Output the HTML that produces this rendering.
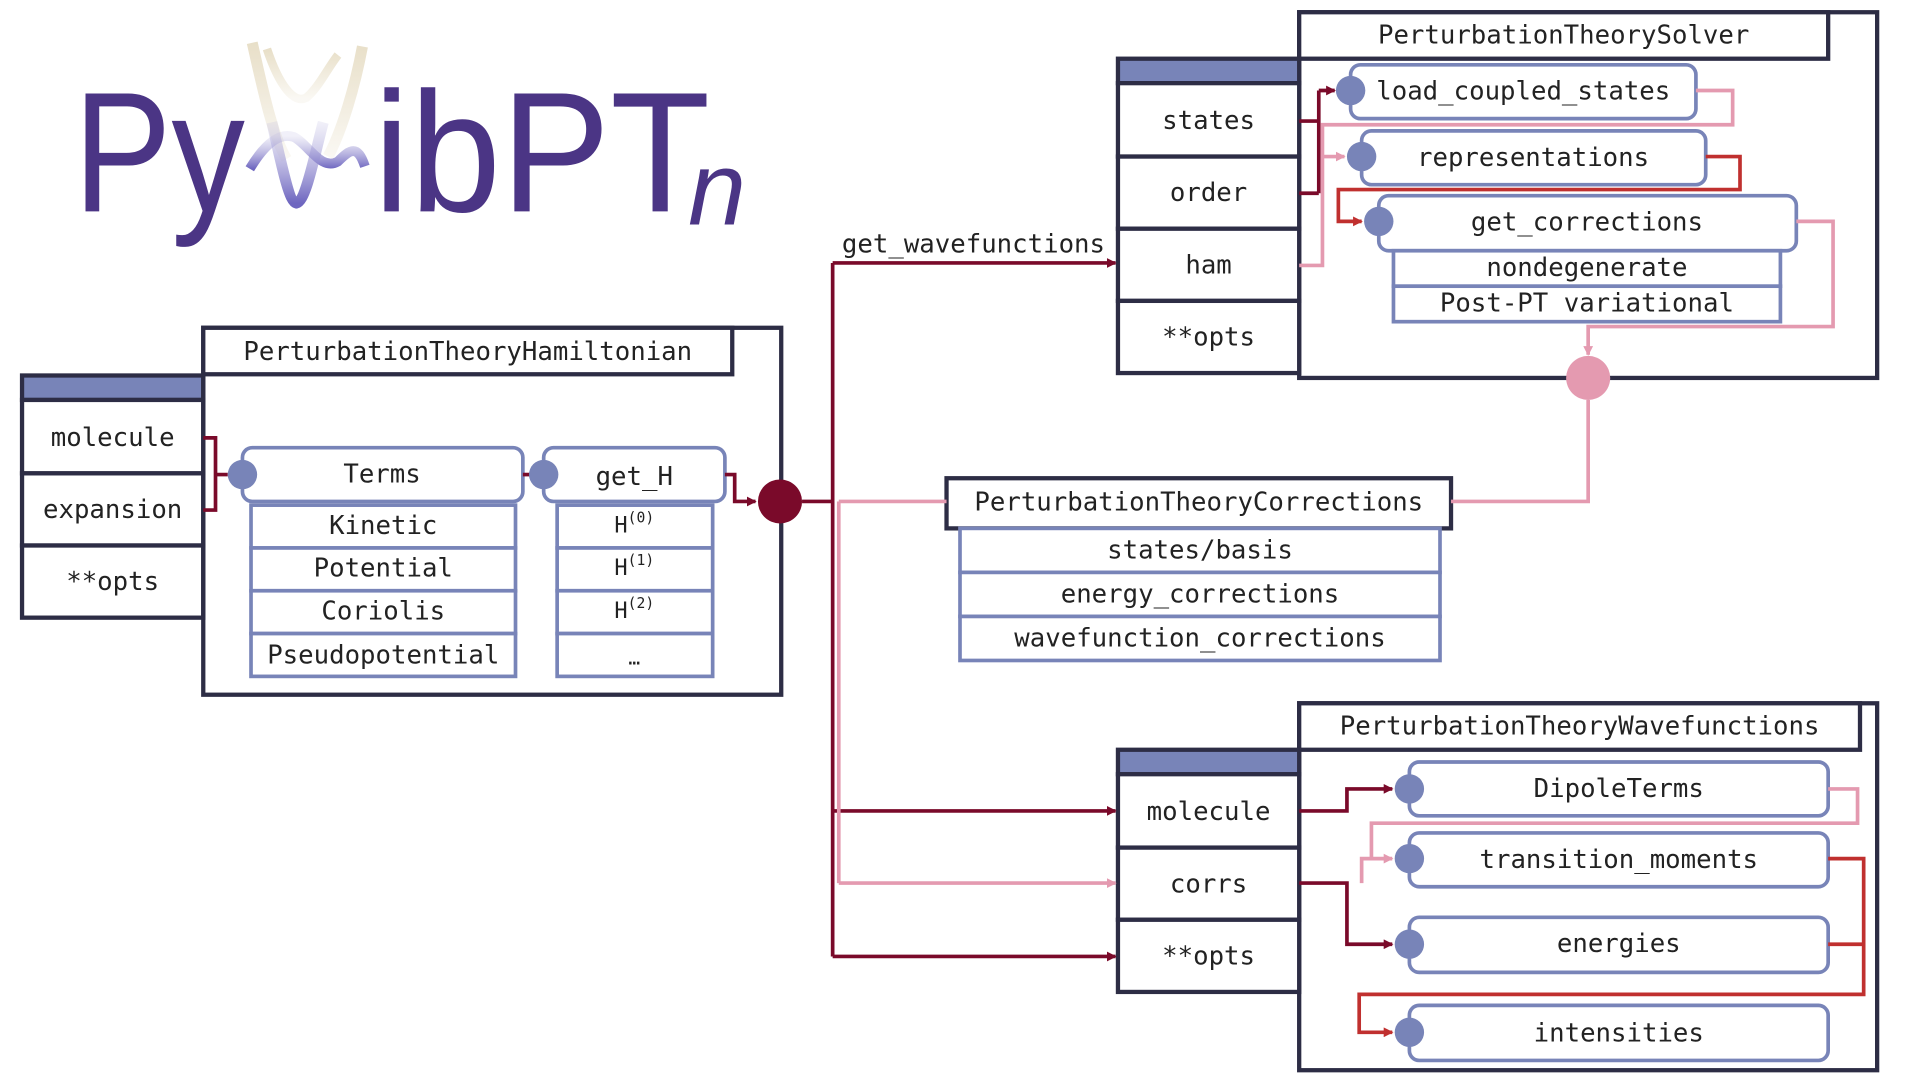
<!DOCTYPE html>
<html><head><meta charset="utf-8"><style>
html,body{margin:0;padding:0;background:#fff;width:1920px;height:1080px;overflow:hidden}
text{font-family:"DejaVu Sans Mono","Liberation Mono",monospace;font-size:21px;fill:#222;text-anchor:middle;dominant-baseline:central}
</style></head><body>
<svg width="1920" height="1080" viewBox="0 0 1568 883" preserveAspectRatio="none" xmlns="http://www.w3.org/2000/svg">
<defs>
<marker id="ad" markerWidth="8" markerHeight="8" refX="7" refY="4" orient="auto" markerUnits="userSpaceOnUse"><path d="M0,0 L8,4 L0,8z" fill="#7A0A2A"/></marker>
<marker id="ap" markerWidth="8" markerHeight="8" refX="7" refY="4" orient="auto" markerUnits="userSpaceOnUse"><path d="M0,0 L8,4 L0,8z" fill="#E49AB0"/></marker>
<marker id="ar" markerWidth="8" markerHeight="8" refX="7" refY="4" orient="auto" markerUnits="userSpaceOnUse"><path d="M0,0 L8,4 L0,8z" fill="#C0302F"/></marker>
<linearGradient id="g1" x1="0" y1="0" x2="0" y2="1"><stop offset="0" stop-color="#E8DFC8"/><stop offset="1" stop-color="#E8DFC8" stop-opacity="0.2"/></linearGradient>
<linearGradient id="g2" x1="0" y1="0" x2="0" y2="1"><stop offset="0" stop-color="#B8B4E0" stop-opacity="0.2"/><stop offset="1" stop-color="#6E66C0"/></linearGradient>
</defs>
<!-- logo -->
<text x="60" y="125" textLength="140" lengthAdjust="spacingAndGlyphs" style="font-family:'Liberation Sans',sans-serif;font-size:140px;fill:#4B3585;text-anchor:start">Py</text>
<text x="305" y="125" textLength="275" lengthAdjust="spacingAndGlyphs" style="font-family:'Liberation Sans',sans-serif;font-size:140px;fill:#4B3585;text-anchor:start">ibPT</text>
<text x="562" y="155" style="font-family:'Liberation Sans',sans-serif;font-size:85px;font-style:italic;fill:#4B3585;text-anchor:start">n</text>
<path d="M206,35 C214,70 222,110 234,130 M296,38 C290,70 280,105 268,128" stroke="url(#g1)" stroke-width="9" fill="none"/>
<path d="M218,40 C228,70 240,85 250,80 C260,72 268,55 276,45" stroke="url(#g1)" stroke-width="7" fill="none"/>
<path d="M204,138 C216,118 228,108 240,112 C252,118 262,140 276,132 C286,122 292,118 298,136" stroke="url(#g2)" stroke-width="8" fill="none"/>
<path d="M222,100 C230,135 236,165 242,166 C250,164 256,130 264,100" stroke="url(#g2)" stroke-width="9" fill="none"/>

<g stroke="#2d2d45" stroke-width="3.5" fill="#fff">
<rect x="18" y="307" width="148" height="20" fill="#7884B8"/>
<rect x="18" y="327" width="148" height="60"/><rect x="18" y="387" width="148" height="59"/><rect x="18" y="446" width="148" height="59"/>
<rect x="166" y="268" width="472" height="300" fill="none"/>
<rect x="166" y="268" width="432" height="38"/>
<rect x="773" y="391" width="412" height="41"/>
<rect x="1061" y="10" width="472" height="299" fill="none"/>
<rect x="1061" y="10" width="432" height="38"/>
<rect x="913" y="48" width="148" height="20" fill="#7884B8"/>
<rect x="913" y="68" width="148" height="60"/><rect x="913" y="128" width="148" height="59"/><rect x="913" y="187" width="148" height="59"/><rect x="913" y="246" width="148" height="59"/>
<rect x="1061" y="575" width="472" height="300" fill="none"/>
<rect x="1061" y="575" width="458" height="38"/>
<rect x="913" y="613" width="148" height="20" fill="#7884B8"/>
<rect x="913" y="633" width="148" height="60"/><rect x="913" y="693" width="148" height="59"/><rect x="913" y="752" width="148" height="59"/>
</g>

<g stroke="#7884B8" stroke-width="3" fill="#fff">
<rect x="198" y="366" width="229" height="44" rx="8"/>
<rect x="205" y="413" width="216" height="35"/><rect x="205" y="448" width="216" height="35"/><rect x="205" y="483" width="216" height="35"/><rect x="205" y="518" width="216" height="35"/>
<rect x="444" y="366" width="148" height="44" rx="8"/>
<rect x="455" y="413" width="127" height="35"/><rect x="455" y="448" width="127" height="35"/><rect x="455" y="483" width="127" height="35"/><rect x="455" y="518" width="127" height="35"/>
<rect x="784" y="432" width="392" height="36"/><rect x="784" y="468" width="392" height="36"/><rect x="784" y="504" width="392" height="36"/>
<rect x="1103" y="53" width="282" height="44" rx="8"/>
<rect x="1112" y="107" width="281" height="44" rx="8"/>
<rect x="1126" y="160" width="341" height="45" rx="8"/>
<rect x="1138" y="205" width="316" height="29"/><rect x="1138" y="234" width="316" height="29"/>
<rect x="1151" y="623" width="342" height="44" rx="8"/>
<rect x="1151" y="681" width="342" height="44" rx="8"/>
<rect x="1151" y="750" width="342" height="45" rx="8"/>
<rect x="1151" y="822" width="342" height="45" rx="8"/>
</g>

<g fill="none" stroke-width="3">
<path d="M166,358 H176 V417 H166 M176,388 H186" stroke="#7A0A2A"/>
<path d="M427,388 H434" stroke="#7A0A2A"/>
<path d="M592,388 H600 V410 H617" stroke="#7A0A2A" marker-end="url(#ad)"/>
<path d="M655,410 H680 M680,215 V782" stroke="#7A0A2A"/>
<path d="M680,215 H911" stroke="#7A0A2A" marker-end="url(#ad)"/>
<path d="M680,663 H911" stroke="#7A0A2A" marker-end="url(#ad)"/>
<path d="M680,782 H911" stroke="#7A0A2A" marker-end="url(#ad)"/>
<path d="M685,410 H773 M685,410 V722" stroke="#E49AB0"/>
<path d="M685,722 H911" stroke="#E49AB0" marker-end="url(#ap)"/>
<path d="M1185,410 H1297 V327" stroke="#E49AB0"/>
<path d="M1061,99 H1077 M1061,158 H1077 M1077,158 V74" stroke="#7A0A2A"/>
<path d="M1077,74 H1090" stroke="#7A0A2A" marker-end="url(#ad)"/>
<path d="M1061,217 H1080 V102 H1415 V74 H1385" stroke="#E49AB0"/>
<path d="M1080,128 H1098" stroke="#E49AB0" marker-end="url(#ap)"/>
<path d="M1393,128 H1421 V155 H1093 V181 H1112" stroke="#C0302F" marker-end="url(#ar)"/>
<path d="M1467,181 H1497 V267 H1297 V290" stroke="#E49AB0" marker-end="url(#ap)"/>
<path d="M1061,663 H1100 V645 H1137" stroke="#7A0A2A" marker-end="url(#ad)"/>
<path d="M1061,722 H1100 V772 H1137" stroke="#7A0A2A" marker-end="url(#ad)"/>
<path d="M1493,645 H1517 V673 H1120 V702 H1137" stroke="#E49AB0" marker-end="url(#ap)"/>
<path d="M1112,722 V702 H1120" stroke="#E49AB0"/>
<path d="M1493,702 H1522 V813 H1110 V844 H1137" stroke="#C0302F" marker-end="url(#ar)"/>
<path d="M1493,772 H1522" stroke="#C0302F"/>
</g>
<g fill="#7884B8">
<circle cx="198" cy="388" r="12"/><circle cx="444" cy="388" r="12"/>
<circle cx="1103" cy="74" r="12"/><circle cx="1112" cy="128" r="12"/><circle cx="1126" cy="181" r="12"/>
<circle cx="1151" cy="645" r="12"/><circle cx="1151" cy="702" r="12"/><circle cx="1151" cy="772" r="12"/><circle cx="1151" cy="844" r="12"/>
</g>
<circle cx="637" cy="410" r="18" fill="#7A0A2A"/>
<circle cx="1297" cy="309" r="18" fill="#E49AB0"/>

<text x="92" y="358">molecule</text><text x="92" y="417">expansion</text><text x="92" y="476">**opts</text>
<text x="382" y="288">PerturbationTheoryHamiltonian</text>
<text x="312" y="388">Terms</text>
<text x="313" y="430">Kinetic</text><text x="313" y="465">Potential</text><text x="313" y="500">Coriolis</text><text x="313" y="536">Pseudopotential</text>
<text x="518" y="390">get_H</text>
<text x="518" y="430" style="font-size:18px">H<tspan dy="-7" font-size="12">(0)</tspan></text>
<text x="518" y="465" style="font-size:18px">H<tspan dy="-7" font-size="12">(1)</tspan></text>
<text x="518" y="500" style="font-size:18px">H<tspan dy="-7" font-size="12">(2)</tspan></text>
<text x="518" y="538" style="font-size:16px">…</text>
<text x="795" y="200">get_wavefunctions</text>
<text x="979" y="411">PerturbationTheoryCorrections</text>
<text x="980" y="450">states/basis</text><text x="980" y="486">energy_corrections</text><text x="980" y="522">wavefunction_corrections</text>
<text x="1277" y="29">PerturbationTheorySolver</text>
<text x="987" y="99">states</text><text x="987" y="158">order</text><text x="987" y="217">ham</text><text x="987" y="276">**opts</text>
<text x="1244" y="75">load_coupled_states</text>
<text x="1252" y="129">representations</text>
<text x="1296" y="182">get_corrections</text>
<text x="1296" y="219">nondegenerate</text><text x="1296" y="248">Post-PT variational</text>
<text x="1290" y="594">PerturbationTheoryWavefunctions</text>
<text x="987" y="664">molecule</text><text x="987" y="723">corrs</text><text x="987" y="782">**opts</text>
<text x="1322" y="645">DipoleTerms</text><text x="1322" y="703">transition_moments</text><text x="1322" y="772">energies</text><text x="1322" y="845">intensities</text>
</svg>
</body></html>
